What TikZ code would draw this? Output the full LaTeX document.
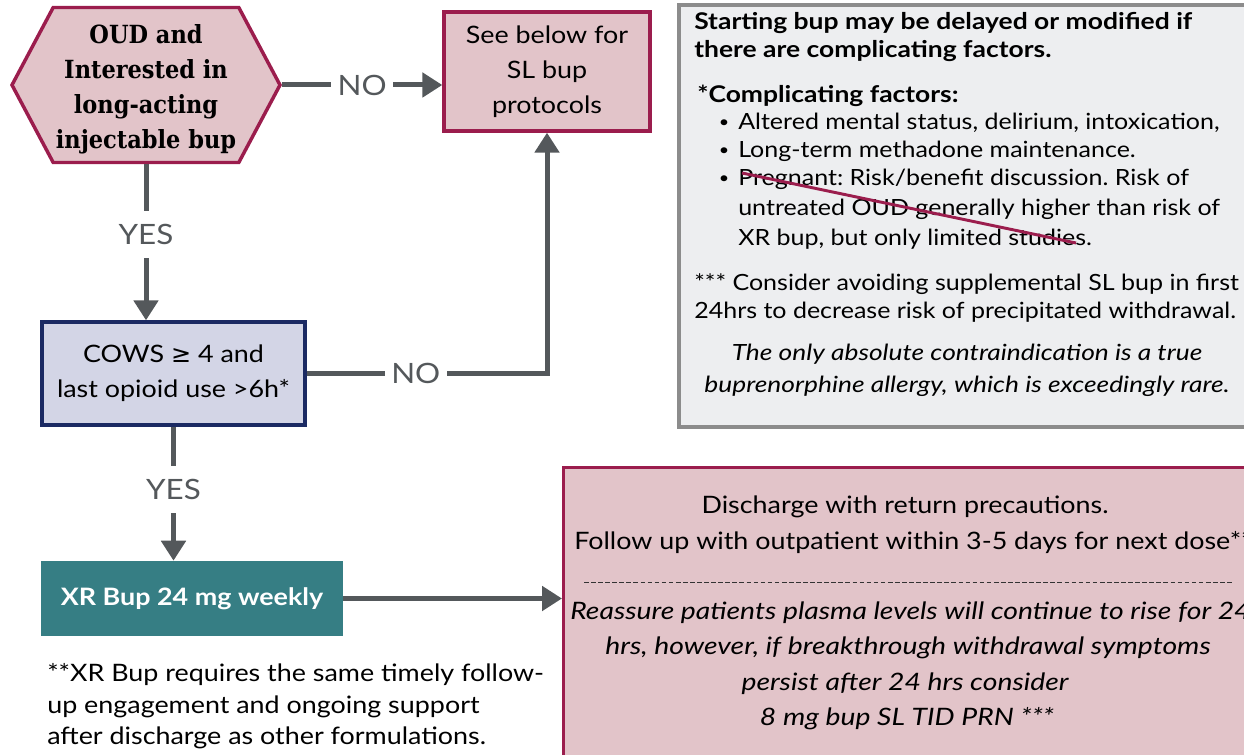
\documentclass[tikz,border=0pt]{standalone}
\usepackage{fontspec}
\setmainfont{Lato}[FakeStretch=1.12]
\newfontfamily\latoit{Lato}[FakeStretch=1.18]
\newfontfamily\latobw{Lato}[FakeStretch=1.15]
\newfontfamily\slabfont{DejaVu Serif Condensed}
\newfontfamily\symfont{DejaVu Sans}
\usetikzlibrary{arrows.meta,shapes.symbols}
\definecolor{pinkfill}{HTML}{E2C4C9}
\definecolor{crimson}{HTML}{9B1D4D}
\definecolor{lavender}{HTML}{D3D5E6}
\definecolor{navy}{HTML}{1B2A63}
\definecolor{tealbox}{HTML}{367E84}
\definecolor{arrowgray}{HTML}{54585B}
\definecolor{boxgray}{HTML}{EDEEF0}
\definecolor{bordergray}{HTML}{8C8C8C}
\def\PX{0.75pt}
\begin{document}
\frenchspacing
\begin{tikzpicture}[x=0.75pt,y=-0.75pt,
  conn/.style={draw=arrowgray,line width=3.75pt},
  arr/.style={conn,-{Triangle[length=15pt,width=18pt]}},
  lbl/.style={fill=white,text=arrowgray,font=\fontsize{21}{25}\selectfont,inner xsep=5pt,inner ysep=10pt},
  pinkbox/.style={draw=crimson,fill=pinkfill,line width=2.5pt},
  boxtext/.style={font=\fontsize{18}{26.25}\selectfont,align=center,inner sep=0pt},
  hexa/.style={signal,signal to=west and east,signal pointer angle=124,
    minimum width=268*\PX,minimum height=155*\PX,draw=crimson,fill=pinkfill,line width=2.6pt,
    font=\slabfont\bfseries\fontsize{18.75}{26.25}\selectfont,align=center,inner sep=0pt},
  txt/.style={font=\fontsize{18}{24}\selectfont,inner sep=0pt},
  itxt/.style={font=\latoit\itshape\fontsize{18}{24}\selectfont,inner sep=0pt},
  gtxt/.style={font=\fontsize{16.75}{21}\selectfont,inner sep=0pt},
  gdot/.style={font=\fontsize{12}{14}\selectfont,inner sep=0pt},
  gtxtb/.style={font=\latobw\bfseries\fontsize{17.25}{21}\selectfont,inner sep=0pt},
  gtxti/.style={font=\latoit\itshape\fontsize{16.75}{21}\selectfont,inner sep=0pt},
]
\useasboundingbox (0,0) rectangle (1244,755);
\clip (0,0) rectangle (1244,755);

% gray info box
\node[draw=bordergray,fill=boxgray,line width=3pt,anchor=north west,
  minimum width=600*\PX,minimum height=422*\PX] (gbox) at (677,3) {};
\node[gtxtb,anchor=base west] (g1) at (694,30) {Starting bup may be delayed or modified if};
\node[gtxtb,anchor=base west] (g2) at (694,58) {there are complicating factors.};
\node[gtxtb,anchor=base west] (g3) at (697,103) {*Complicating factors:};
\node[gdot] (u1) at (724,124) {•};
\node[gdot] (u2) at (724,152) {•};
\node[gdot] (u3) at (724,180) {•};
\node[gtxt,anchor=base west] (b1) at (738,130) {Altered mental status, delirium, intoxication,};
\node[gtxt,anchor=base west] (b2) at (738,158) {Long-term methadone maintenance.};
\node[gtxt,anchor=base west] (b3) at (738,186) {Pregnant: Risk/benefit discussion. Risk of};
\node[gtxt,anchor=base west] (b4) at (738,216) {untreated OUD generally higher than risk of};
\node[gtxt,anchor=base west] (b5) at (738,246) {XR bup, but only limited studies.};
\coordinate (s1) at (742,173);
\coordinate (s2) at (1076,243);
\draw[crimson,line width=2.2pt] (s1) -- (s2);
\node[gtxt,anchor=base west] (g4) at (694,291) {*** Consider avoiding supplemental SL bup in first};
\node[gtxt,anchor=base west] (g5) at (694,318) {24hrs to decrease risk of precipitated withdrawal.};
\node[gtxti,anchor=base] (g6) at (967,360) {The only absolute contraindication is a true};
\node[gtxti,anchor=base] (g7) at (967,392) {buprenorphine allergy, which is exceedingly rare.};

% flow nodes
\node[hexa] (hex) at (146,85) {\raisebox{-2\PX}{OUD and}\\\raisebox{-2\PX}{Interested in}\\\raisebox{-2\PX}{long-acting}\\\raisebox{-2\PX}{injectable bup}};
\node[pinkbox,boxtext,minimum width=206*\PX,minimum height=119*\PX] (sl) at (547,71.5) {See below for\\SL bup\\protocols};
\node[draw=navy,fill=lavender,line width=2.5pt,boxtext,minimum width=263*\PX,minimum height=103*\PX] (cows) at (173.5,373.5) {COWS {\symfont ≥} 4 and\\last opioid use >6h*};
\node[fill=tealbox,text=white,font=\bfseries\fontsize{18}{24}\selectfont,minimum width=302*\PX,minimum height=75*\PX,inner sep=0pt] (xr) at (192,598.5) {XR Bup 24 mg weekly};
\node[pinkbox,anchor=north west,minimum width=700*\PX,minimum height=320*\PX] (dis) at (562,466) {};

% discharge text
\node[txt,anchor=base] (d1) at (905,513) {Discharge with return precautions.};
\node[txt,anchor=base west] (d2) at (574,549) {Follow up with outpatient within 3-5 days for next dose**};
\coordinate (h1) at (584,582);
\coordinate (h2) at (1234,582);
\draw[black!80,line width=0.7pt,dash pattern=on 3.5pt off 1.8pt] (h1) -- (h2);
\node[itxt,anchor=base west] (d3) at (570,619) {Reassure patients plasma levels will continue to rise for 24};
\node[itxt,anchor=base] (d4) at (908,654) {hrs, however, if breakthrough withdrawal symptoms};
\node[itxt,anchor=base] (d5) at (905,690) {persist after 24 hrs consider};
\node[itxt,anchor=base] (d6) at (907,725) {8 mg bup SL TID PRN ***};

% note
\node[txt,anchor=base west] (n1) at (47,681) {**XR Bup requires the same timely follow-};
\node[txt,anchor=base west] (n2) at (47,713) {up engagement and ongoing support};
\node[txt,anchor=base west] (n3) at (47,744) {after discharge as other formulations.};

% connectors
\draw[arr] (hex.east) -- node[lbl]{NO} (hex.east -| sl.west);
\draw[arr] (hex.south) -- node[lbl,pos=0.45]{YES} (hex.south |- cows.north);
\draw[arr] (cows.east) -| node[lbl,pos=0.227]{NO} (sl.south);
\draw[arr] (cows.south) -- node[lbl,pos=0.47]{YES} (cows.south |- xr.north);
\draw[arr] (xr.east) -- (xr.east -| dis.west);
\end{tikzpicture}
\end{document}
